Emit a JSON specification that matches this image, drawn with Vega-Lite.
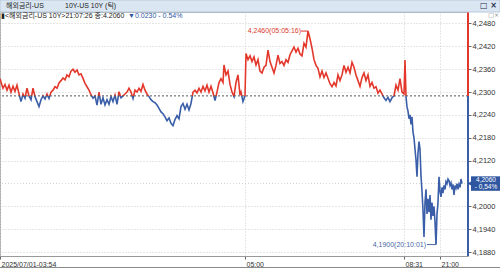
{
  "$schema": "https://vega.github.io/schema/vega-lite/v6.json",
  "width": 468,
  "height": 244,
  "autosize": {"type": "none"},
  "padding": {"left": 0, "top": 12, "right": 32, "bottom": 13},
  "background": "white",
  "config": {
    "view": {"stroke": "#a8a8a8", "strokeWidth": 1},
    "font": "Liberation Sans",
    "axis": {"labelOverlap": false}
  },
  "datasets": {
    "ticks": [
      {"i":0,"v":4.2335},{"i":2,"v":4.2318},{"i":3,"v":4.2310},{"i":5,"v":4.2320},{"i":7,"v":4.2305},{"i":9,"v":4.2318},{"i":11,"v":4.2300},{"i":13,"v":4.2315},{"i":15,"v":4.2302},{"i":17,"v":4.2318},{"i":19,"v":4.2296},{"i":21,"v":4.2275},{"i":23,"v":4.2295},{"i":25,"v":4.2284},{"i":27,"v":4.2310},{"i":29,"v":4.2290},{"i":31,"v":4.2280},{"i":33,"v":4.2310},{"i":35,"v":4.2288},{"i":37,"v":4.2275},{"i":39,"v":4.2262},{"i":41,"v":4.2280},{"i":43,"v":4.2290},{"i":45,"v":4.2282},{"i":47,"v":4.2295},{"i":49,"v":4.2283},{"i":51,"v":4.2300},{"i":53,"v":4.2305},{"i":55,"v":4.2314},{"i":57,"v":4.2310},{"i":59,"v":4.2324},{"i":61,"v":4.2330},{"i":63,"v":4.2337},{"i":65,"v":4.2332},{"i":67,"v":4.2345},{"i":69,"v":4.2340},{"i":71,"v":4.2355},{"i":73,"v":4.2360},{"i":75,"v":4.2352},{"i":77,"v":4.2358},{"i":79,"v":4.2345},{"i":81,"v":4.2348},{"i":83,"v":4.2336},{"i":85,"v":4.2323},{"i":87,"v":4.2314},{"i":89,"v":4.2305},{"i":91,"v":4.2293},{"i":93,"v":4.2284},{"i":95,"v":4.2290},{"i":97,"v":4.2266},{"i":99,"v":4.2300},{"i":101,"v":4.2268},{"i":103,"v":4.2285},{"i":105,"v":4.2266},{"i":107,"v":4.2280},{"i":109,"v":4.2268},{"i":111,"v":4.2288},{"i":113,"v":4.2275},{"i":115,"v":4.2292},{"i":117,"v":4.2268},{"i":119,"v":4.2301},{"i":121,"v":4.2285},{"i":123,"v":4.2290},{"i":125,"v":4.2295},{"i":127,"v":4.2300},{"i":129,"v":4.2310},{"i":131,"v":4.2300},{"i":133,"v":4.2283},{"i":135,"v":4.2305},{"i":137,"v":4.2300},{"i":139,"v":4.2310},{"i":141,"v":4.2302},{"i":143,"v":4.2320},{"i":145,"v":4.2305},{"i":147,"v":4.2295},{"i":149,"v":4.2288},{"i":151,"v":4.2280},{"i":153,"v":4.2275},{"i":155,"v":4.2272},{"i":157,"v":4.2266},{"i":159,"v":4.2257},{"i":161,"v":4.2248},{"i":163,"v":4.2243},{"i":165,"v":4.2235},{"i":167,"v":4.2225},{"i":169,"v":4.2232},{"i":171,"v":4.2218},{"i":173,"v":4.2212},{"i":175,"v":4.2228},{"i":177,"v":4.2238},{"i":179,"v":4.2230},{"i":181,"v":4.2262},{"i":183,"v":4.2270},{"i":185,"v":4.2255},{"i":187,"v":4.2268},{"i":189,"v":4.2253},{"i":191,"v":4.2270},{"i":193,"v":4.2300},{"i":195,"v":4.2305},{"i":197,"v":4.2298},{"i":199,"v":4.2310},{"i":201,"v":4.2300},{"i":203,"v":4.2315},{"i":205,"v":4.2303},{"i":207,"v":4.2318},{"i":209,"v":4.2300},{"i":211,"v":4.2315},{"i":213,"v":4.2298},{"i":215,"v":4.2278},{"i":217,"v":4.2300},{"i":219,"v":4.2325},{"i":221,"v":4.2335},{"i":223,"v":4.2325},{"i":224,"v":4.2371},{"i":226,"v":4.2345},{"i":228,"v":4.2355},{"i":230,"v":4.2320},{"i":232,"v":4.2300},{"i":234,"v":4.2288},{"i":236,"v":4.2325},{"i":238,"v":4.2345},{"i":240,"v":4.2292},{"i":241,"v":4.2300},{"i":243,"v":4.2275},{"i":245,"v":4.2290},{"i":246,"v":4.2401},{"i":248,"v":4.2385},{"i":250,"v":4.2395},{"i":252,"v":4.2380},{"i":254,"v":4.2392},{"i":256,"v":4.2371},{"i":258,"v":4.2385},{"i":260,"v":4.2355},{"i":262,"v":4.2350},{"i":264,"v":4.2365},{"i":266,"v":4.2370},{"i":268,"v":4.2410},{"i":270,"v":4.2380},{"i":272,"v":4.2365},{"i":274,"v":4.2350},{"i":276,"v":4.2370},{"i":278,"v":4.2397},{"i":280,"v":4.2375},{"i":282,"v":4.2380},{"i":284,"v":4.2370},{"i":286,"v":4.2385},{"i":288,"v":4.2378},{"i":290,"v":4.2398},{"i":292,"v":4.2408},{"i":294,"v":4.2418},{"i":296,"v":4.2405},{"i":298,"v":4.2415},{"i":300,"v":4.2400},{"i":302,"v":4.2395},{"i":304,"v":4.2428},{"i":306,"v":4.2418},{"i":308,"v":4.2460},{"i":310,"v":4.2440},{"i":312,"v":4.2415},{"i":314,"v":4.2385},{"i":316,"v":4.2370},{"i":318,"v":4.2362},{"i":320,"v":4.2340},{"i":322,"v":4.2355},{"i":324,"v":4.2338},{"i":326,"v":4.2350},{"i":328,"v":4.2336},{"i":330,"v":4.2322},{"i":332,"v":4.2314},{"i":334,"v":4.2325},{"i":336,"v":4.2316},{"i":338,"v":4.2345},{"i":340,"v":4.2330},{"i":342,"v":4.2345},{"i":344,"v":4.2370},{"i":346,"v":4.2352},{"i":348,"v":4.2365},{"i":350,"v":4.2350},{"i":352,"v":4.2378},{"i":354,"v":4.2365},{"i":356,"v":4.2345},{"i":358,"v":4.2330},{"i":360,"v":4.2315},{"i":362,"v":4.2338},{"i":364,"v":4.2350},{"i":366,"v":4.2330},{"i":368,"v":4.2345},{"i":370,"v":4.2315},{"i":372,"v":4.2325},{"i":374,"v":4.2310},{"i":376,"v":4.2314},{"i":378,"v":4.2297},{"i":380,"v":4.2305},{"i":382,"v":4.2295},{"i":384,"v":4.2285},{"i":386,"v":4.2278},{"i":388,"v":4.2286},{"i":390,"v":4.2275},{"i":392,"v":4.2285},{"i":394,"v":4.2290},{"i":396,"v":4.2318},{"i":398,"v":4.2305},{"i":400,"v":4.2335},{"i":402,"v":4.2300},{"i":404,"v":4.2295},{"i":405,"v":4.2384},{"i":406,"v":4.2288},{"i":407,"v":4.2261},{"i":408,"v":4.2250},{"i":409,"v":4.2230},{"i":410,"v":4.2240},{"i":411,"v":4.2215},{"i":412,"v":4.2235},{"i":413,"v":4.2195},{"i":414,"v":4.2180},{"i":415,"v":4.2150},{"i":416,"v":4.2122},{"i":417,"v":4.2078},{"i":418,"v":4.2140},{"i":419,"v":4.2170},{"i":420,"v":4.2150},{"i":421,"v":4.2080},{"i":422,"v":4.2040},{"i":423,"v":4.1990},{"i":424,"v":4.1920},{"i":425,"v":4.2010},{"i":426,"v":4.2045},{"i":427,"v":4.1980},{"i":428,"v":4.2020},{"i":429,"v":4.1985},{"i":430,"v":4.2030},{"i":431,"v":4.1965},{"i":432,"v":4.2010},{"i":433,"v":4.1975},{"i":434,"v":4.2000},{"i":435,"v":4.1960},{"i":436,"v":4.1900},{"i":437,"v":4.1980},{"i":438,"v":4.2010},{"i":439,"v":4.2078},{"i":440,"v":4.2040},{"i":441,"v":4.2025},{"i":442,"v":4.2050},{"i":443,"v":4.2035},{"i":444,"v":4.2055},{"i":445,"v":4.2045},{"i":446,"v":4.2065},{"i":447,"v":4.2060},{"i":448,"v":4.2072},{"i":449,"v":4.2068},{"i":450,"v":4.2055},{"i":451,"v":4.2062},{"i":452,"v":4.2045},{"i":453,"v":4.2058},{"i":454,"v":4.2030},{"i":455,"v":4.2055},{"i":456,"v":4.2048},{"i":457,"v":4.2060},{"i":458,"v":4.2045},{"i":459,"v":4.2058},{"i":460,"v":4.2050},{"i":461,"v":4.2072},{"i":462,"v":4.2060}
    ],
    "one": [{}]
  },
  "layer": [
    {
      "data": {"name": "one"},
      "mark": {"type": "rule", "color": "#cfcfcf", "strokeDash": [1, 2], "strokeWidth": 1},
      "encoding": {"y": {"datum": 4.206}}
    },
    {
      "data": {"name": "ticks"},
      "mark": {"type": "line", "strokeWidth": 1.6, "interpolate": "linear",
        "stroke": {"gradient": "linear", "x1": 0, "y1": 0, "x2": 0, "y2": 1,
          "stops": [
            {"offset": 0, "color": "#e3372b"},
            {"offset": 0.3036, "color": "#e3372b"},
            {"offset": 0.3036, "color": "#3a5ea8"},
            {"offset": 1, "color": "#3a5ea8"}
          ]}},
      "encoding": {
        "x": {"field": "i", "type": "quantitative",
          "scale": {"domain": [0, 468], "nice": false, "zero": false},
          "axis": {"title": null, "values": [0, 245, 404, 440], "tickCount": 50,
            "labelExpr": "datum.value == 0 ? '2025/07/01-03:54' : datum.value == 245 ? '05:00' : datum.value == 404 ? '08:31' : '21:00'",
            "labelAlign": "left", "labelOffset": 1, "labelPadding": 1, "labelFont": "Liberation Sans", "labelFontSize": 7, "labelColor": "#333",
            "labelFlush": false, "labelOverlap": false, "labelBound": false,
            "domain": true, "domainColor": "#999", "tickSize": 3, "tickColor": "#666",
            "grid": true, "gridColor": "#cfcfcf", "gridDash": [1, 2]}},
        "y": {"field": "v", "type": "quantitative",
          "scale": {"domain": [4.187, 4.251], "nice": false, "zero": false},
          "axis": {"title": null, "orient": "right", "tickCount": 50,
            "values": [4.188, 4.194, 4.2, 4.212, 4.218, 4.224, 4.23, 4.236, 4.242, 4.248],
            "labelExpr": "replace(format(datum.value, '.4f'), '.', ',')",
            "labelFont": "Liberation Sans", "labelFontSize": 7.5, "labelColor": "#333", "labelPadding": 1,
            "labelOverlap": false, "labelFlush": false, "labelBound": false,
            "domain": false, "tickSize": 3, "tickColor": "#666",
            "grid": true, "gridColor": "#cfcfcf", "gridDash": [1, 2]}}
      }
    },
    {
      "data": {"name": "one"},
      "mark": {"type": "rule", "color": "#555", "strokeDash": [2, 2], "strokeWidth": 1},
      "encoding": {"y": {"datum": 4.229}}
    },
    {
      "data": {"name": "one"},
      "mark": {"type": "rule", "color": "#e3372b", "strokeWidth": 2},
      "encoding": {"x": {"datum": 468}, "y": {"datum": 4.251}, "y2": {"datum": 4.229}}
    },
    {
      "data": {"name": "one"},
      "mark": {"type": "rule", "color": "#3a5ea8", "strokeWidth": 2},
      "encoding": {"x": {"datum": 468}, "y": {"datum": 4.229}, "y2": {"datum": 4.187}}
    },
    {
      "data": {"name": "one"},
      "mark": {"type": "text", "text": "4,2460(05:05:16)", "align": "right", "baseline": "middle", "dx": -7, "font": "Liberation Sans", "fontSize": 7, "color": "#d9392c"},
      "encoding": {"x": {"datum": 308}, "y": {"datum": 4.246}}
    },
    {
      "data": {"name": "one"},
      "mark": {"type": "rule", "color": "#d9392c", "strokeWidth": 1},
      "encoding": {"x": {"datum": 301}, "x2": {"datum": 308}, "y": {"datum": 4.246}}
    },
    {
      "data": {"name": "one"},
      "mark": {"type": "text", "text": "4,1900(20:10:01)", "align": "right", "baseline": "middle", "dx": -10, "font": "Liberation Sans", "fontSize": 7, "color": "#4a69a6"},
      "encoding": {"x": {"datum": 436}, "y": {"datum": 4.19}}
    },
    {
      "data": {"name": "one"},
      "mark": {"type": "rule", "color": "#4a69a6", "strokeWidth": 1},
      "encoding": {"x": {"datum": 427}, "x2": {"datum": 436}, "y": {"datum": 4.19}}
    },
    {
      "data": {"name": "one"},
      "mark": {"type": "rule", "color": "#4a69a6", "strokeWidth": 1},
      "encoding": {"x": {"datum": 436}, "y": {"datum": 4.19}, "y2": {"datum": 4.1908}}
    },
    {
      "data": {"name": "one"},
      "mark": {"type": "rect", "color": "#2f56a0"},
      "encoding": {"x": {"datum": 471}, "x2": {"datum": 500}, "y": {"datum": 4.2079}, "y2": {"datum": 4.2041}}
    },
    {
      "data": {"name": "one"},
      "mark": {"type": "point", "shape": "triangle-left", "filled": true, "color": "#2f56a0", "size": 30, "opacity": 1},
      "encoding": {"x": {"datum": 470}, "y": {"datum": 4.206}}
    },
    {
      "data": {"name": "one"},
      "mark": {"type": "text", "text": "4,2060", "align": "center", "baseline": "middle", "dy": -3.5, "font": "Liberation Sans", "fontSize": 6.5, "color": "white"},
      "encoding": {"x": {"datum": 486}, "y": {"datum": 4.206}}
    },
    {
      "data": {"name": "one"},
      "mark": {"type": "text", "text": "- 0,54%", "align": "center", "baseline": "middle", "dy": 3.5, "font": "Liberation Sans", "fontSize": 6.5, "color": "white"},
      "encoding": {"x": {"datum": 486}, "y": {"datum": 4.206}}
    },
    {
      "data": {"name": "one"},
      "mark": {"type": "rect", "color": "#dae6f2", "stroke": "#b8c8da", "strokeWidth": 1},
      "encoding": {"x": {"datum": 0}, "x2": {"datum": 500}, "y": {"datum": 4.2510}, "y2": {"datum": 4.25415}}
    },
    {
      "data": {"name": "one"},
      "mark": {"type": "text", "text": "해외금리-US", "align": "left", "baseline": "middle", "dx": 6, "dy": -6, "font": "Liberation Sans, Noto Sans CJK KR", "fontSize": 7, "color": "#222"},
      "encoding": {"x": {"datum": 0}, "y": {"datum": 4.251}}
    },
    {
      "data": {"name": "one"},
      "mark": {"type": "text", "text": "10Y-US 10Y (틱)", "align": "left", "baseline": "middle", "dx": 65, "dy": -6, "font": "Liberation Sans, Noto Sans CJK KR", "fontSize": 7, "color": "#222"},
      "encoding": {"x": {"datum": 0}, "y": {"datum": 4.251}}
    },
    {
      "data": {"name": "one"},
      "mark": {"type": "text", "text": "□ ×", "align": "right", "baseline": "middle", "dx": -3, "dy": -6, "font": "DejaVu Sans", "fontSize": 8, "fontWeight": "bold", "color": "#1f3050"},
      "encoding": {"x": {"datum": 500}, "y": {"datum": 4.251}}
    },
    {
      "data": {"name": "one"},
      "mark": {"type": "text", "text": "□×", "align": "right", "baseline": "middle", "dx": -1, "dy": 3, "font": "DejaVu Sans", "fontSize": 6, "color": "#888"},
      "encoding": {"x": {"datum": 500}, "y": {"datum": 4.251}}
    },
    {
      "data": {"name": "one"},
      "mark": {"type": "text", "text": "▮<해외금리-US 10Y>21:07:26 종:4.2060", "align": "left", "baseline": "middle", "dx": 1, "dy": 4, "font": "Liberation Sans, Noto Sans CJK KR", "fontSize": 7, "color": "#222"},
      "encoding": {"x": {"datum": 0}, "y": {"datum": 4.251}}
    },
    {
      "data": {"name": "one"},
      "mark": {"type": "text", "text": "▼0.0230  - 0.54%", "align": "left", "baseline": "middle", "dx": 128, "dy": 4, "font": "Liberation Sans, Noto Sans CJK KR", "fontSize": 7, "color": "#2f56a0"},
      "encoding": {"x": {"datum": 0}, "y": {"datum": 4.251}}
    },
    {
      "data": {"name": "one"},
      "mark": {"type": "rule", "color": "#888", "strokeWidth": 1},
      "encoding": {"x": {"datum": 0}, "x2": {"datum": 500}, "y": {"datum": 4.18399}}
    }
  ]
}
